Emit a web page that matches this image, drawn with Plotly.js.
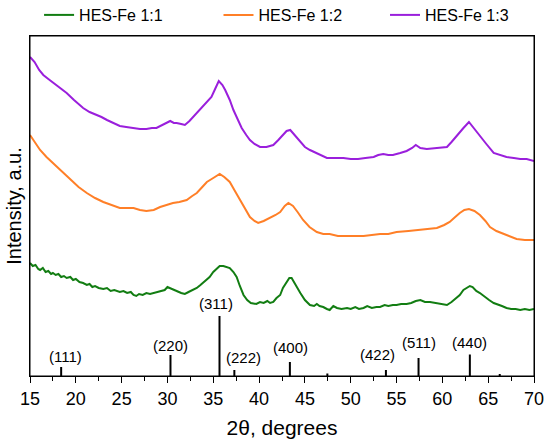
<!DOCTYPE html>
<html>
<head>
<meta charset="utf-8">
<script src="https://cdn.plot.ly/plotly-3.0.1.min.js"></script>
<style>html,body{margin:0;padding:0;background:#fff;}#chart{width:550px;height:446px;}</style>
</head>
<body>
<div id="chart"></div>
<script>
// ---- data ----
const seriesNames = ['HES-Fe 1:1', 'HES-Fe 1:2', 'HES-Fe 1:3'];

const x11 = [15.0,15.3,15.6,15.9,16.1,16.4,16.7,17.0,17.3,17.5,17.8,18.1,18.4,18.7,19.0,19.4,19.7,20.0,20.4,20.8,21.2,21.5,21.8,22.1,22.5,23.0,23.4,23.8,24.2,24.8,25.2,25.6,26.0,26.3,26.6,26.9,27.3,27.7,28.1,28.5,28.9,29.3,29.7,30.0,30.3,30.6,31.0,31.5,31.9,32.3,32.8,33.2,33.6,34.1,34.6,35.0,35.4,35.7,36.1,36.5,36.8,37.2,37.55,37.9,38.3,38.7,39.1,39.7,40.1,40.5,40.9,41.2,41.55,41.9,42.3,42.6,43.0,43.3,43.55,43.9,44.2,44.5,45.0,45.55,46.0,46.3,46.6,47.0,47.4,47.7,48.1,48.5,49.0,49.6,50.0,50.5,50.9,51.4,51.8,52.3,52.8,53.2,53.7,54.1,54.6,55.0,55.5,56.1,56.6,57.1,57.6,58.1,58.65,59.2,59.8,60.5,61.0,61.5,61.9,62.3,62.7,63.0,63.3,63.7,64.1,64.6,65.1,65.6,66.0,66.5,67.0,67.5,68.0,68.5,69.0,69.5,70.0];
const y11 = [113,110,111,107,106,108,104,105,102,103,101,102,99,100,98,99,96,97,94,93,91,92,89,90,88,87,88,85,86,84,85,83,84,81,80,82,81,83,82,83,84,85,86,89,88,87,85,83,82,84,86,88,91,95,99,104,108,110,110,109,108,104,99,90,81,76,73,72,74,73,75,73,74,78,81,88,94,98,98,92,87,83,76,71,70,72,70,69,67,66,70,68,67,68,67,69,67,68,70,68,69,69,71,70,71,71,72,72,73,75,76,74,74,73,72,71,74,78,81,86,88,90,89,85,83,79,76,73,72,70,68,67,67,66,67,66,67];

const x12 = [15.0,15.5,16.1,16.8,17.5,18.4,19.4,20.3,21.2,22.1,23.0,23.9,24.8,25.5,26.3,27.0,27.7,28.5,29.2,29.9,30.6,31.3,32.1,32.7,33.2,33.8,34.3,35.0,35.7,36.2,36.8,37.3,37.9,38.5,39.0,39.5,39.9,40.5,41.2,41.8,42.3,42.8,43.2,43.7,44.2,44.8,45.5,46.3,47.0,47.7,48.6,49.6,50.5,51.4,52.3,53.2,54.1,55.0,56.3,57.6,58.5,59.4,60.2,60.8,61.4,61.9,62.4,62.9,63.5,64.1,64.7,65.2,65.9,66.65,67.4,68.1,69.0,70.0];
const y12 = [241,234,226,219,213,205,196,189,183,178,174,171,168,168,168,166,165,166,169,171,173,174,176,180,183,189,194,198,202,199,194,186,176,166,159,155,153,155,158,161,164,170,173,170,164,156,149,144,142,142,140,140,140,140,141,142,142,144,145,146,147,148,151,154,159,163,166,167,165,161,155,149,145,142,139,137,136,136];

const x13 = [15.0,15.5,16.0,16.45,17.0,17.55,18.2,19.0,19.8,20.8,21.5,22.3,22.8,23.4,24.1,24.8,25.5,26.3,27.0,27.7,28.3,28.8,29.2,29.6,30.0,30.3,30.7,31.0,31.5,31.9,32.4,32.8,33.4,33.9,34.4,34.8,35.2,35.6,36.0,36.3,36.8,37.2,37.7,38.1,38.6,39.0,39.5,40.1,40.8,41.55,42.1,42.6,43.0,43.4,43.9,44.5,45.0,45.55,46.3,47.0,47.4,48.2,49.2,50.0,50.8,51.6,52.5,53.0,53.55,54.1,54.6,55.4,56.1,56.7,57.1,57.6,58.3,59.4,60.5,61.0,61.6,62.3,62.9,63.5,64.1,64.8,65.6,66.3,67.0,67.8,68.5,69.2,70.0];
const y13 = [319,314,306,301,297,293,289,283,276,268,264,261,259,256,253,250,249,248,247,247,248,248,250,252,254,255,253,253,252,251,255,259,264,269,274,279,287,295,291,286,276,266,256,248,241,236,232,229,229,231,236,241,245,246,241,234,229,226,223,220,218,218,218,217,217,218,219,221,222,221,221,223,225,228,231,228,227,228,229,234,241,248,254,247,239,232,223,221,219,218,217,217,215];

// reference pattern (magnetite) sticks
const stickPos = [18.4, 30.33, 35.68, 37.3, 43.36, 47.45, 53.84, 57.4, 63.0, 66.26];
const stickInt = [9, 21, 60, 6, 14, 2.5, 6, 18, 21.5, 2];

// hkl labels
const hklText = ['(111)', '(220)', '(311)', '(222)', '(400)', '(422)', '(511)', '(440)'];
const hklX = [18.86, 30.33, 35.3, 38.3, 43.44, 52.9, 57.4, 63.0];
const hklY = [19.3, 31, 73, 19, 29, 22, 33.2, 34];

// axis ranges
const xRange = [15, 70];
const yRange = [0, 340];

// ---- build ----
const FONT = 'Liberation Sans, Arial, Helvetica, sans-serif';
const colors = ['#127d12', '#ff7f27', '#9a1fdc'];
const legendIds = ['legend', 'legend2', 'legend3'];
const legendX = [0.018, 0.374, 0.7044];

const stickX = [], stickY = [];
stickPos.forEach((p, i) => { stickX.push(p, p, null); stickY.push(0, stickInt[i], null); });

const xs = [x11, x12, x13], ys = [y11, y12, y13];
const traces = xs.map((xv, i) => ({
  x: xv, y: ys[i], name: seriesNames[i], type: 'scatter', mode: 'lines',
  line: {color: colors[i], width: 2}, legend: legendIds[i]
}));
traces.push({x: stickX, y: stickY, type: 'scatter', mode: 'lines', line: {color: '#000', width: 2}, showlegend: false, hoverinfo: 'skip'});
// plot frame along the axis range (box)
traces.push({x: [xRange[0], xRange[0], xRange[1], xRange[1], xRange[0]],
             y: [yRange[0], yRange[1], yRange[1], yRange[0], yRange[0]],
             type: 'scatter', mode: 'lines', line: {color: '#000', width: 1}, cliponaxis: false,
             showlegend: false, hoverinfo: 'skip'});

const annotations = hklText.map((t, i) => ({
  x: hklX[i], y: hklY[i], xref: 'x', yref: 'y', text: t, showarrow: false,
  xanchor: 'center', yanchor: 'middle', font: {family: FONT, size: 15, color: '#000'}
}));

const layout = {
  width: 550, height: 446,
  margin: {l: 30, r: 16, t: 36, b: 70},
  paper_bgcolor: '#fff', plot_bgcolor: '#fff',
  font: {family: FONT, color: '#000'},
  showlegend: true,
  xaxis: {
    range: xRange, tickmode: 'linear', tick0: 15, dtick: 5,
    ticks: 'outside', ticklen: 6, tickwidth: 1, tickcolor: '#000',
    minor: {tickmode: 'linear', tick0: 15, dtick: 2.5, ticks: 'outside', ticklen: 4, tickwidth: 1, tickcolor: '#000'},
    showline: true, linecolor: '#000', linewidth: 1, mirror: true,
    showgrid: false, zeroline: false,
    tickfont: {family: FONT, size: 18, color: '#000'},
    title: {text: '2θ, degrees', font: {family: FONT, size: 21, color: '#000'}, standoff: 12}
  },
  yaxis: {
    range: yRange, showticklabels: false, ticks: '',
    showline: true, linecolor: '#000', linewidth: 1, mirror: true,
    showgrid: false, zeroline: false,
    title: {text: 'Intensity, a.u.', font: {family: FONT, size: 20, color: '#000'}, standoff: 2}
  },
  annotations: annotations
};
legendIds.forEach((id, i) => {
  layout[id] = {orientation: 'h', x: legendX[i], xanchor: 'left', xref: 'paper',
    y: 1 - 15 / 446, yref: 'container', yanchor: 'middle',
    font: {family: FONT, size: 16, color: '#000'}, bgcolor: 'rgba(0,0,0,0)', borderwidth: 0};
});

Plotly.newPlot('chart', traces, layout, {displayModeBar: false, staticPlot: true});
</script>
</body>
</html>
